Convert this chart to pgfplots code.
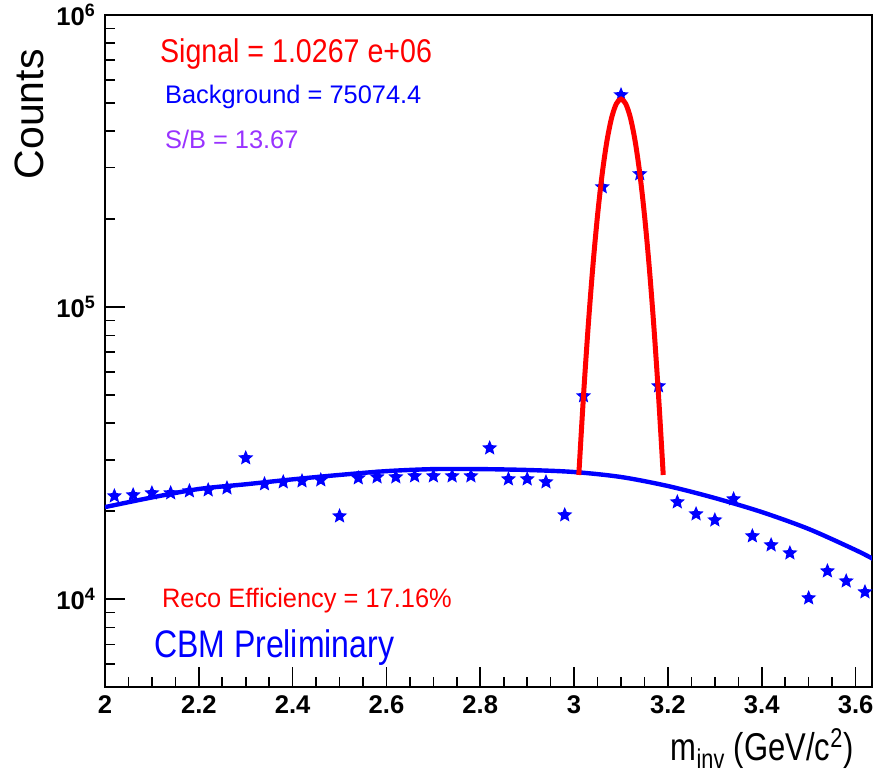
\documentclass[border=0pt]{standalone}
\usepackage{fontspec}
\setmainfont{Liberation Sans}
\usepackage{graphicx}
\usepackage{pgfplots}
\usepackage{pgfplotstable}
\pgfplotsset{compat=1.18}

\definecolor{rootred}{rgb}{1,0,0}
\definecolor{rootblue}{rgb}{0,0,1}
\definecolor{rootviolet}{RGB}{153,51,255}

% filled five-pointed star marker
\pgfdeclareplotmark{fstar}{%
  \pgfpathmoveto{\pgfpointpolar{90}{\pgfplotmarksize}}%
  \pgfpathlineto{\pgfpointpolar{126}{0.45\pgfplotmarksize}}%
  \pgfpathlineto{\pgfpointpolar{162}{\pgfplotmarksize}}%
  \pgfpathlineto{\pgfpointpolar{198}{0.45\pgfplotmarksize}}%
  \pgfpathlineto{\pgfpointpolar{234}{\pgfplotmarksize}}%
  \pgfpathlineto{\pgfpointpolar{270}{0.45\pgfplotmarksize}}%
  \pgfpathlineto{\pgfpointpolar{306}{\pgfplotmarksize}}%
  \pgfpathlineto{\pgfpointpolar{342}{0.45\pgfplotmarksize}}%
  \pgfpathlineto{\pgfpointpolar{18}{\pgfplotmarksize}}%
  \pgfpathlineto{\pgfpointpolar{54}{0.45\pgfplotmarksize}}%
  \pgfpathclose
  \pgfusepathqfill}

% invariant-mass spectrum (counts per bin)
\pgfplotstableread{
m n
2.02 22530
2.06 22710
2.10 23070
2.14 23070
2.18 23440
2.22 23620
2.26 23990
2.30 30410
2.34 24770
2.38 25160
2.42 25360
2.46 25560
2.50 19240
2.54 25970
2.58 26170
2.62 26170
2.66 26380
2.70 26380
2.74 26380
2.78 26380
2.82 32890
2.86 25760
2.90 25760
2.94 25160
2.98 19400
3.02 49580
3.06 257600
3.10 532100
3.14 285500
3.18 53640
3.22 21490
3.26 19550
3.30 18640
3.34 22000
3.38 16440
3.42 15310
3.46 14370
3.50 10080
3.54 12470
3.58 11520
3.62 10570
}\spectrum

% background fit
\pgfplotstableread{
m n
2.00 20650
2.10 22280
2.20 23820
2.30 24720
2.40 25700
2.50 26610
2.60 27420
2.70 27860
2.80 27860
2.90 27670
3.00 27230
3.10 26180
3.20 24380
3.30 22180
3.40 19860
3.50 17380
3.60 14720
3.64 13650
}\bgfit

% signal peak fit
\pgfplotstableread{
m n
3.01 26600
3.02 49600
3.03 85800
3.04 138000
3.05 206400
3.06 286900
3.07 370600
3.08 444900
3.09 496500
3.10 515000
3.11 496500
3.12 444900
3.13 370600
3.14 286900
3.15 206400
3.16 138000
3.17 85800
3.18 49600
3.19 26600
}\peakfit

\begin{document}
\begin{tikzpicture}
\useasboundingbox (-52.5pt,-44.5pt) rectangle (385pt,343.5pt);
\begin{axis}[
  at={(0,0)}, anchor=south west,
  scale only axis, width=383.5pt, height=336pt,
  clip mode=individual,
  xmin=2, xmax=3.635,
  ymode=log, ymin=5000, ymax=1e6,
  axis line style={line width=1.4pt},
  tick align=inside, xtick pos=bottom, ytick pos=left,
  xtick={2,2.2,2.4,2.6,2.8,3,3.2,3.4,3.6},
  xticklabels={2,2.2,2.4,2.6,2.8,3,3.2,3.4,3.6},
  minor x tick num=3,
  ytick={1e4,1e5,1e6},
  yticklabels={10\textsuperscript{4},10\textsuperscript{5},10\textsuperscript{6}},
  minor ytick={6000,7000,8000,9000,20000,30000,40000,50000,60000,70000,80000,90000,2e5,3e5,4e5,5e5,6e5,7e5,8e5,9e5},
  major tick length=10pt, minor tick length=5pt,
  tick style={line width=0.8pt, black},
  ticklabel style={font=\fontsize{12.8}{14}\selectfont\bfseries},
  xticklabel style={yshift=-1pt},
  yticklabel style={xshift=-1pt},
]
\addplot[only marks, mark=fstar, mark size=4pt, color=rootblue] table[x=m, y=n] {\spectrum};
\addplot[smooth, color=rootblue, line width=2.2pt] table[x=m, y=n] {\bgfit};
\addplot[smooth, color=rootred, line width=2.5pt] table[x=m, y=n] {\peakfit};

\node[anchor=base west, text=rootred, font=\fontsize{14.3}{16}\selectfont]
  at (rel axis cs:0.0626,0.930) {\scalebox{1}[1.15]{Signal = 1.0267 e+06}};
\node[anchor=base west, text=rootblue, font=\fontsize{12.7}{15}\selectfont]
  at (rel axis cs:0.0691,0.8676) {Background = 75074.4};
\node[anchor=base west, text=rootviolet, font=\fontsize{12.7}{15}\selectfont]
  at (rel axis cs:0.0691,0.802) {S/B = 13.67};
\node[anchor=base west, text=rootred, font=\fontsize{12.7}{15}\selectfont]
  at (rel axis cs:0.0652,0.119) {\scalebox{1}[1.05]{Reco Efficiency = 17.16\%}};
\node[anchor=base west, text=rootblue, font=\fontsize{16}{19}\selectfont]
  at (rel axis cs:0.0548,0.0446) {\scalebox{1}[1.2]{CBM Preliminary}};

\node[anchor=base, rotate=90, font=\fontsize{20.5}{24}\selectfont]
  at (rel axis cs:-0.0808,0.852) {Counts};
\node[anchor=base, font=\fontsize{15.5}{18}\selectfont]
  at (rel axis cs:0.857,-0.110) {\scalebox{1}[1.25]{m\textsubscript{inv} (GeV/c\textsuperscript{2})}};
\end{axis}
\end{tikzpicture}
\end{document}
